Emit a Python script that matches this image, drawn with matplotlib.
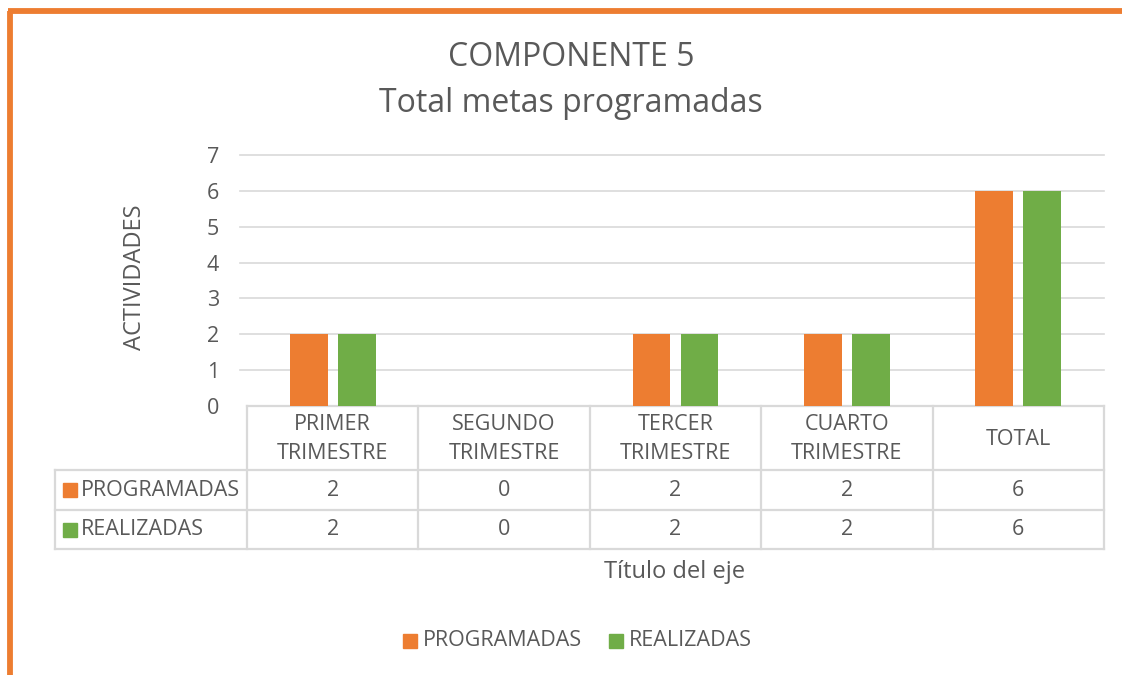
import matplotlib
matplotlib.use("Agg")
import matplotlib.pyplot as plt
from matplotlib.transforms import blended_transform_factory
from matplotlib.patches import Rectangle
from matplotlib.lines import Line2D

plt.rcParams['font.family'] = ['Open Sans', 'DejaVu Sans']

categories = ["PRIMER\nTRIMESTRE", "SEGUNDO\nTRIMESTRE", "TERCER\nTRIMESTRE", "CUARTO\nTRIMESTRE", "TOTAL"]
series_names = ["PROGRAMADAS", "REALIZADAS"]
programadas = [2, 0, 2, 2, 6]
realizadas = [2, 0, 2, 2, 6]
yticks = [0, 1, 2, 3, 4, 5, 6, 7]

C_ORANGE = "#ED7D31"
C_GREEN = "#70AD47"
C_TEXT = "#595959"
C_GRID = "#D9D9D9"
FS = 15.5
FS_AX = 17

W, H = 1122, 675
fig = plt.figure(figsize=(W / 100, H / 100), dpi=100)

def fx(px):
    return px / W

def fy(py):
    return 1 - py / H

# orange frame (top and left)
fig.add_artist(Line2D([fx(9.5), fx(9.5)], [fy(675), fy(11)], color=C_ORANGE, lw=4.2, solid_capstyle='butt'))
fig.add_artist(Line2D([fx(7.5), fx(1122)], [fy(11), fy(11)], color=C_ORANGE, lw=4.2, solid_capstyle='butt'))

ax_l, ax_r, ax_t, ax_b = 247, 1104, 155, 406
ax = fig.add_axes([fx(ax_l), fy(ax_b), fx(ax_r - ax_l), (ax_b - ax_t) / H])
ax.set_xlim(-0.5, len(categories) - 0.5)
ax.set_ylim(0, 7)

x = list(range(len(categories)))
bw = 0.22
gap = 0.06
ax.bar([i - (bw + gap) / 2 for i in x], programadas, width=bw, color=C_ORANGE, zorder=3)
ax.bar([i + (bw + gap) / 2 for i in x], realizadas, width=bw, color=C_GREEN, zorder=3)

for s in ax.spines.values():
    s.set_visible(False)
ax.set_xticks([])
ax.set_yticks(yticks)
ax.set_yticklabels([str(v) for v in yticks], fontsize=FS, color=C_TEXT)
ax.tick_params(axis='y', length=0, pad=20)
for v in yticks[1:]:
    ax.axhline(v, xmin=-7 / (ax_r - ax_l), xmax=1, color=C_GRID, lw=1.2, zorder=1, clip_on=False)

# data table
tr = blended_transform_factory(ax.transData, ax.transAxes)
hpx = ax_b - ax_t
def ay(py):
    return -(py - ax_b) / hpx

xl = -0.5 + (55 - ax_l) / ((ax_r - ax_l) / len(categories))
xr = len(categories) - 0.5
y0, y1, y2, y3 = ay(406), ay(470), ay(510), ay(549)
lkw = dict(color=C_GRID, lw=1.6, transform=tr, clip_on=False, zorder=2)
ax.plot([-0.5, xr], [y0, y0], **lkw)
ax.plot([xl, xr], [y1, y1], **lkw)
ax.plot([xl, xr], [y2, y2], **lkw)
ax.plot([xl, xr], [y3, y3], **lkw)
for b in [i - 0.5 for i in range(len(categories) + 1)]:
    ax.plot([b, b], [y0, y3], **lkw)
ax.plot([xl, xl], [y1, y3], **lkw)

for i, c in enumerate(categories):
    ax.text(i, (y0 + y1) / 2 - 0.004, c, transform=tr, ha='center', va='center', fontsize=FS,
            color=C_TEXT, linespacing=1.5, clip_on=False)
    ax.text(i, (y1 + y2) / 2, str(programadas[i]), transform=tr, ha='center', va='center',
            fontsize=FS, color=C_TEXT)
    ax.text(i, (y2 + y3) / 2, str(realizadas[i]), transform=tr, ha='center', va='center',
            fontsize=FS, color=C_TEXT)

for name, col, (ya, yb) in [(series_names[0], C_ORANGE, (y1, y2)), (series_names[1], C_GREEN, (y2, y3))]:
    yc = (ya + yb) / 2
    yfig = ax.transAxes.transform((0, yc))[1] / H
    fig.add_artist(Rectangle((fx(63), yfig - 7 / H), 14 / W, 14 / H, color=col))
    fig.text(fx(81), yfig, name, ha='left', va='center', fontsize=FS, color=C_TEXT)

# titles
fig.text(fx(571), fy(57), "COMPONENTE 5", ha='center', va='center', fontsize=23, color=C_TEXT)
fig.text(fx(571), fy(104), "Total metas programadas", ha='center', va='center', fontsize=23, color=C_TEXT)

fig.text(fx(135), fy(277), "ACTIVIDADES", rotation=90, ha='center', va='center', fontsize=FS_AX, color=C_TEXT)
fig.text(fx(675), fy(572), "Título del eje", ha='center', va='center', fontsize=FS_AX, color=C_TEXT)

# legend
for name, col, px in [(series_names[0], C_ORANGE, 403), (series_names[1], C_GREEN, 609)]:
    fig.add_artist(Rectangle((fx(px), fy(648)), 14 / W, 14 / H, color=col))
    fig.text(fx(px + 20), fy(641), name, ha='left', va='center', fontsize=FS, color=C_TEXT)

fig.savefig("out.png", dpi=100, facecolor="white")
